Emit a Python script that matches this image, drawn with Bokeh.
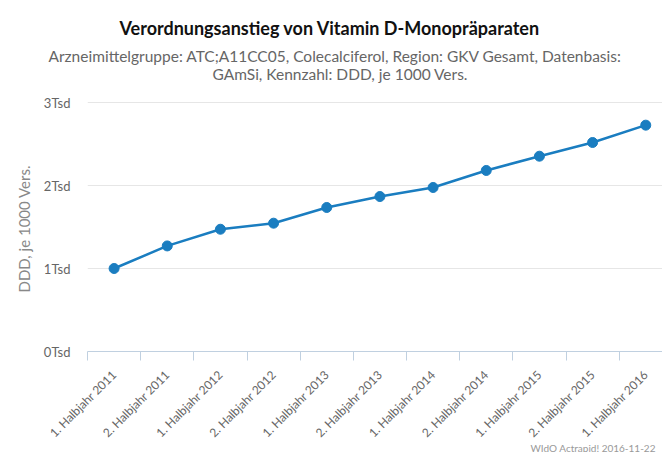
import math
from bokeh.plotting import figure
from bokeh.models import Range1d, FixedTicker, CustomJSTickFormatter, Title, ColumnDataSource
from bokeh.embed import file_html
from bokeh.resources import INLINE

title_text = "Verordnungsanstieg von Vitamin D-Monopräparaten"
subtitle_lines = [
    "Arzneimittelgruppe: ATC;A11CC05, Colecalciferol, Region: GKV Gesamt, Datenbasis:",
    "GAmSi, Kennzahl: DDD, je 1000 Vers.",
]
y_axis_title = "DDD, je 1000 Vers."
credit_text = "WIdO Actrapid! 2016-11-22"

categories = [
    "1. Halbjahr 2011", "2. Halbjahr 2011",
    "1. Halbjahr 2012", "2. Halbjahr 2012",
    "1. Halbjahr 2013", "2. Halbjahr 2013",
    "1. Halbjahr 2014", "2. Halbjahr 2014",
    "1. Halbjahr 2015", "2. Halbjahr 2015",
    "1. Halbjahr 2016",
]
values = [1000, 1272, 1473, 1546, 1735, 1867, 1976, 2181, 2353, 2518, 2727]
y_ticks = [0, 1000, 2000, 3000]

FONT = "Lato"
xs = [i + 0.5 for i in range(len(categories))]
src = ColumnDataSource(dict(x=xs, y=values, cat=categories))

W, H = 662, 452
FL, FT, FB = 87, 83, 351      # frame left / top / bottom (figure pixels)
GRID_TOP = 102                # pixel row of the top gridline (3Tsd)
y_end = 3000 + (GRID_TOP - FT) * 3000 / (FB - GRID_TOP)

p = figure(width=W, height=H, output_backend="svg", toolbar_location=None,
           x_range=Range1d(0, 10.815), y_range=Range1d(0, y_end),
           min_border_left=FL, min_border_right=0, min_border_top=FT, min_border_bottom=H - FB)
p.outline_line_color = None
p.background_fill_color = "white"

# x axis
p.xaxis.ticker = FixedTicker(ticks=xs, minor_ticks=list(range(len(categories) + 1)))
p.xaxis.major_label_overrides = {x: c for x, c in zip(xs, categories)}
p.xaxis.major_tick_line_color = None
p.xaxis.major_tick_out = 0
p.xaxis.major_tick_in = 0
p.xaxis.minor_tick_line_color = "#C0D0E0"
p.xaxis.minor_tick_out = 9
p.xaxis.minor_tick_in = 0
p.xaxis.axis_line_color = "#C0D0E0"
p.xaxis.major_label_orientation = math.pi / 4
p.xaxis.major_label_text_font = FONT
p.xaxis.major_label_text_font_size = "12px"
p.xaxis.major_label_text_color = "#666666"
p.xaxis.major_label_standoff = 12
p.xgrid.grid_line_color = None

# y axis
p.yaxis.ticker = FixedTicker(ticks=y_ticks)
p.yaxis.formatter = CustomJSTickFormatter(code="return (tick/1000).toFixed(0) + 'Tsd';")
p.yaxis.axis_line_color = None
p.yaxis.major_tick_line_color = None
p.yaxis.major_tick_out = 0
p.yaxis.major_tick_in = 0
p.yaxis.minor_tick_line_color = None
p.yaxis.major_label_standoff = 17
p.yaxis.major_label_text_font = FONT
p.yaxis.major_label_text_font_size = "13px"
p.yaxis.major_label_text_color = "#666666"
p.ygrid.grid_line_color = "#E6E6E6"
p.ygrid.ticker = FixedTicker(ticks=y_ticks[1:])

# y axis title as a side title, placed along the plot height
p.add_layout(Title(text=y_axis_title, align="left", offset=FB - 292, standoff=16,
                   text_font=FONT, text_font_style="normal", text_font_size="15px",
                   text_color="#888888"), "left")

# series
p.line("x", "y", source=src, line_color="#1A7DC0", line_width=2.5)
p.scatter("x", "y", source=src, size=10, fill_color="#1A7DC0", line_color="#1A7DC0")

# titles: added nearest-first (later ones stack above)
p.add_layout(Title(text=subtitle_lines[1], align="left", offset=212 - FL, standoff=2,
                   text_font=FONT, text_font_style="normal", text_font_size="15.5px",
                   text_color="#666666"), "above")
p.add_layout(Title(text=subtitle_lines[0], align="left", offset=48 - FL, standoff=-7,
                   text_font=FONT, text_font_style="normal", text_font_size="15.5px",
                   text_color="#666666"), "above")
p.add_layout(Title(text=title_text, align="left", offset=119 - FL, standoff=20,
                   text_font=FONT, text_font_style="bold", text_font_size="18px",
                   text_color="#111111"), "above")
p.add_layout(Title(text=credit_text, align="left", vertical_align="top", offset=530 - FL,
                   standoff=-14, text_font=FONT, text_font_style="normal",
                   text_font_size="10px", text_color="#999999"), "below")

open("out.html", "w").write(file_html(p, INLINE))
